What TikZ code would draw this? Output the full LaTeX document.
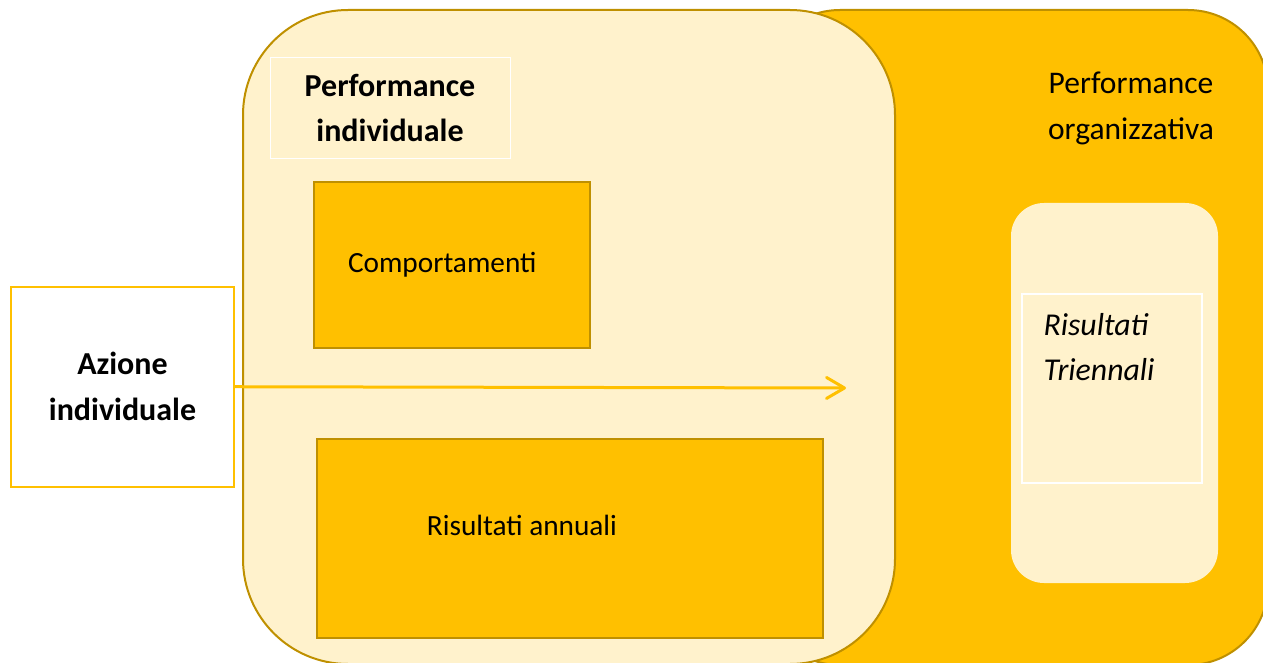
\documentclass[tikz,border=0pt]{standalone}
\usepackage{fontspec}
\setmainfont{Carlito}
\usetikzlibrary{arrows.meta}
\definecolor{gold}{HTML}{FFC000}
\definecolor{cream}{HTML}{FFF2CC}
\definecolor{ochre}{HTML}{BF9000}
\tikzset{
  txt/.style={font=\fontsize{29.3}{45.5}\selectfont},
  txtbf/.style={font=\fontsize{32}{45.5}\selectfont\bfseries},
  txtit/.style={font=\fontsize{31.8}{45}\selectfont\itshape},
  goldbox/.style={draw=ochre, line width=2pt, fill=gold},
  flow/.style={draw=gold, line width=3pt, line cap=round,
    -{Straight Barb[length=18pt,width=21pt,line width=3pt,round]}}
}
\begin{document}
\begin{tikzpicture}[x=1pt,y=-1pt]
\useasboundingbox (0,0) rectangle (1263,663);
\clip (0,0) rectangle (1263,663);
% the two performances
\draw[ochre,line width=2pt,fill=gold,rounded corners=80pt] (760,10) rectangle (1268,665);
\draw[ochre,line width=2pt,fill=cream,rounded corners=105pt] (243,10) rectangle (895,664);

\node[draw=white, line width=1pt, minimum width=240pt, minimum height=101pt,
  txtbf, align=center] (indiv) at (390,108) {Performance\\individuale};
\node[font=\fontsize{31.5}{46}\selectfont, align=center] (organiz) at (1131,108) {Performance\\organizzativa};

\node[goldbox, txt, minimum width=276pt, minimum height=166pt,
  text width=208pt, inner xsep=33pt, align=left] (comport) at (452,265) {Comportamenti};
\node[goldbox, minimum width=506pt, minimum height=199pt] (annuali) at (570,538.5) {};
\node[txt] (annualitxt) at (522,525) {Risultati annuali};

% triennali
\fill[cream, rounded corners=33pt] (1011,203) rectangle (1218,583);
\node[draw=white, line width=2pt, minimum width=180pt, minimum height=189pt] (trienbox) at (1112,388.5) {};
\node[txtit, align=left, anchor=west] (trientxt) at (1040,347) {Risultati\\Triennali};

% azione
\node[draw=gold, line width=2pt, fill=white, minimum width=223pt, minimum height=200pt,
  txtbf, align=center] (azione) at (122.5,386.5) {Azione\\individuale};
\coordinate (tip) at (846,388);
\draw[flow] (azione) -- (tip);
\end{tikzpicture}
\end{document}
